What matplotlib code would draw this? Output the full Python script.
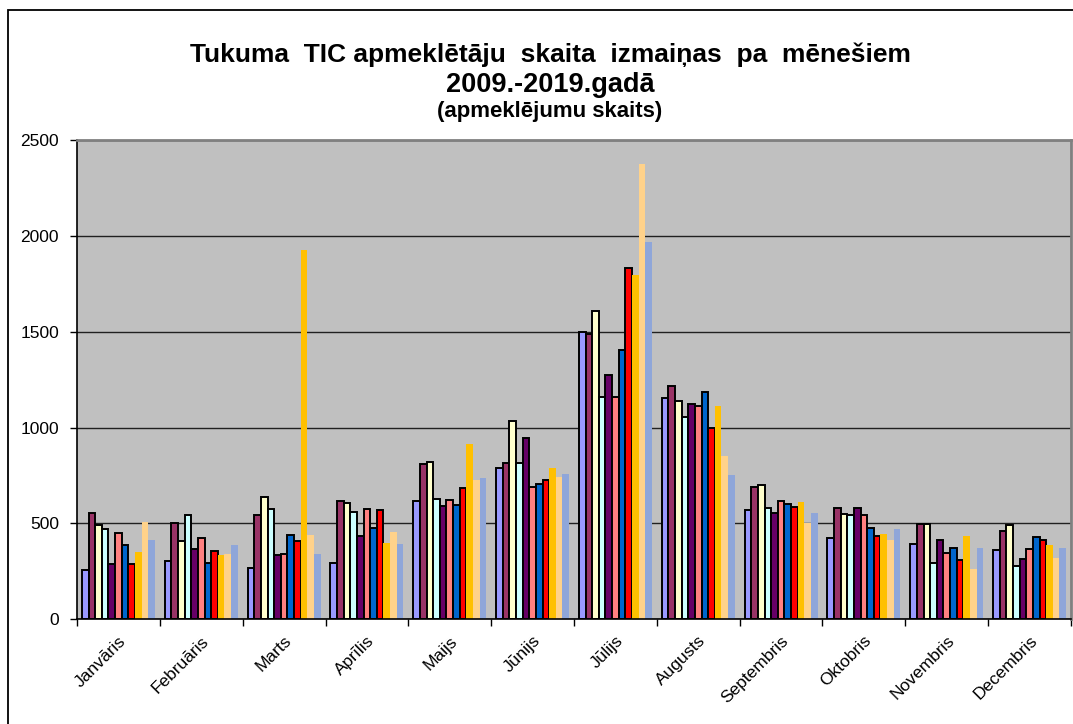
import matplotlib
matplotlib.use("Agg")
import matplotlib.pyplot as plt
import numpy as np
from matplotlib.patches import Rectangle

plt.rcParams['font.family'] = ['Liberation Sans', 'DejaVu Sans']

months = ["Janvāris", "Februāris", "Marts", "Aprīlis", "Maijs", "Jūnijs",
          "Jūlijs", "Augusts", "Septembris", "Oktobris", "Novembris", "Decembris"]
years = ["2009", "2010", "2011", "2012", "2013", "2014",
         "2015", "2016", "2017", "2018", "2019"]

y2009 = [258, 303, 268, 295, 617, 787, 1501, 1152, 572, 425, 392, 362]
y2010 = [555, 501, 545, 615, 810, 814, 1487, 1215, 689, 583, 497, 458]
y2011 = [492, 410, 636, 606, 822, 1036, 1607, 1141, 703, 548, 497, 493]
y2012 = [471, 545, 575, 559, 630, 815, 1162, 1056, 583, 542, 294, 277]
y2013 = [291, 365, 337, 433, 591, 945, 1276, 1124, 557, 583, 413, 317]
y2014 = [450, 422, 342, 573, 624, 691, 1159, 1113, 618, 542, 345, 369]
y2015 = [387, 296, 438, 475, 594, 706, 1406, 1187, 600, 474, 374, 427]
y2016 = [291, 358, 410, 572, 685, 726, 1834, 1000, 584, 436, 311, 413]
y2017 = [350, 335, 1925, 400, 915, 790, 1797, 1112, 611, 446, 436, 388]
y2018 = [505, 342, 438, 456, 726, 742, 2373, 853, 504, 413, 261, 322]
y2019 = [416, 386, 343, 394, 735, 757, 1969, 752, 555, 469, 374, 374]

series = [y2009, y2010, y2011, y2012, y2013, y2014, y2015, y2016, y2017, y2018, y2019]
colors = ["#9999FF", "#993366", "#FFFFCC", "#CCFFFF", "#660066", "#FF8080",
          "#0066CC", "#FF0000", "#FFC000", "#FFD28A", "#8FA6D9"]
edged = [True] * 8 + [False] * 3

fig = plt.figure(figsize=(10.73, 7.24), dpi=100)
fig.patch.set_facecolor("white")

# outer chart border (left and top visible)
fig.add_artist(Rectangle((8 / 1073, -0.1), 1.2, 1 - 10 / 724 + 0.1,
                         transform=fig.transFigure, fill=False,
                         edgecolor="black", linewidth=1.3))

ax = fig.add_axes([77 / 1073, 1 - 619.3 / 724, (1071 - 77) / 1073, (619.3 - 140) / 724])
ax.set_facecolor("#C0C0C0")

x = np.arange(len(months))
w = 0.08
n = len(series)
for j, (vals, c, e) in enumerate(zip(series, colors, edged)):
    off = (j - (n - 1) / 2) * w
    ax.bar(x + off, vals, width=w, color=c,
           edgecolor="black" if e else c,
           linewidth=1.4 if e else 0, zorder=3, label=years[j])

ax.set_xlim(-0.5, len(months) - 0.5)
ax.set_ylim(0, 2500)
ax.set_yticks([0, 500, 1000, 1500, 2000, 2500])
ax.yaxis.grid(True, color="#202020", linewidth=1.0, zorder=1)
ax.set_axisbelow(True)

ax.set_xticks(x)
ax.set_xticklabels(months, rotation=45, ha="right", rotation_mode="anchor",
                   fontsize=12.5)
ax.tick_params(axis="x", which="major", length=0, pad=10)
ax.set_xticks(np.arange(-0.5, len(months) + 0.5, 1), minor=True)
ax.tick_params(axis="x", which="minor", length=5, width=1, direction="out")
ax.tick_params(axis="y", length=5, width=1, direction="out", pad=8, labelsize=12.5)

for s in ["top", "right"]:
    ax.spines[s].set_color("#808080")
    ax.spines[s].set_linewidth(2)
for s in ["left", "bottom"]:
    ax.spines[s].set_color("black")
    ax.spines[s].set_linewidth(1.2)
ax.spines["bottom"].set_zorder(5)

tx = 550 / 1073
fig.text(tx, 1 - 61.7 / 724, "Tukuma  TIC apmeklētāju  skaita  izmaiņas  pa  mēnešiem",
         ha="center", va="baseline", fontsize=19, fontweight="bold")
fig.text(tx, 1 - 91.7 / 724, "2009.-2019.gadā",
         ha="center", va="baseline", fontsize=19.5, fontweight="bold")
fig.text(tx, 1 - 117.5 / 724, "(apmeklējumu skaits)",
         ha="center", va="baseline", fontsize=16, fontweight="bold")

fig.savefig("out.png", dpi=100, facecolor="white")
